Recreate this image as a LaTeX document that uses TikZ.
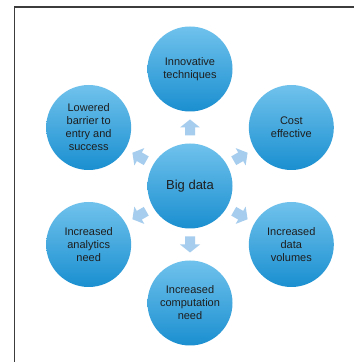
\documentclass[tikz,border=0pt]{standalone}
\usepackage{fontspec}
\setmainfont{Liberation Sans}
\usetikzlibrary{calc}
\definecolor{bubbletop}{HTML}{70C2EC}
\definecolor{bubblebot}{HTML}{1A8FD0}
\definecolor{arrowblue}{HTML}{A6CDEE}
\definecolor{textdark}{HTML}{1E1E1E}
\definecolor{framegray}{HTML}{3C3C3C}
\tikzset{
  bubble/.style={circle, minimum size=85pt, inner sep=0pt, align=center,
    top color=bubbletop, bottom color=bubblebot, draw=none,
    text=textdark, font=\fontsize{11}{13}\selectfont},
  hub/.style={bubble, font=\fontsize{13}{16}\selectfont},
  blockarrow/.pic={
    \fill[arrowblue] (-8,-5) -- (0,-5) -- (0,-10) -- (8,0) -- (0,10) -- (0,5) -- (-8,5) -- cycle;
  }
}
\begin{document}
\begin{tikzpicture}[x=1pt,y=1pt]
  \useasboundingbox (0,0) rectangle (354,362);
  \fill[white] (0,0) rectangle (354,362);
  % page frame
  \draw[framegray, line width=1.5pt] (14.5,0) -- (14.5,355) -- (354,355);
  % hub and surrounding themes
  \node[hub] (c) at (190,176) {Big data};
  \node[bubble] (n90)  at ($(c)+(90:117)$)  {Innovative\\techniques};
  \node[bubble] (n30)  at ($(c)+(30:117)$)  {Cost\\effective};
  \node[bubble] (n330) at ($(c)+(-30:117)$) {Increased\\data\\volumes};
  \node[bubble] (n270) at ($(c)+(-90:117)$) {Increased\\computation\\need};
  \node[bubble] (n210) at ($(c)+(210:117)$) {Increased\\analytics\\need};
  \node[bubble] (n150) at ($(c)+(150:117)$) {Lowered\\barrier to\\entry and\\success};
  % outward block arrows
  \foreach \a in {90,30,330,270,210,150}
    \path ($(c)!0.5!(n\a)$) pic[rotate=\a] {blockarrow};
\end{tikzpicture}
\end{document}
